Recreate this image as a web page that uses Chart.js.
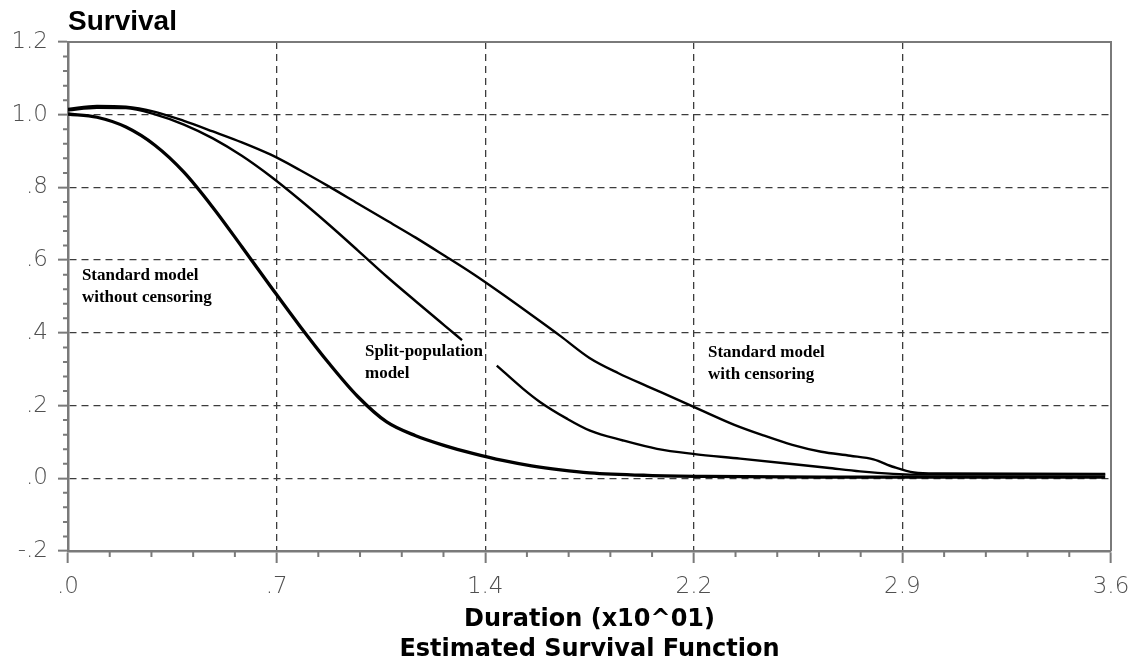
<!DOCTYPE html>
<html>
<head>
<meta charset="utf-8">
<script src="https://cdn.jsdelivr.net/npm/chart.js@4/dist/chart.umd.min.js"></script>
<style>
  html, body { margin: 0; padding: 0; background: #ffffff; }
  #wrap { width: 1146px; height: 670px; }
</style>
</head>
<body>
<div id="wrap"><canvas id="c" width="1146" height="670"></canvas></div>
<script>
// ---- Data ----
// Standard model without censoring
const xNoCens = [0, 0.1, 0.2, 0.3, 0.4, 0.5, 0.6, 0.7, 0.8, 0.9, 1.0, 1.1, 1.2, 1.3, 1.4, 1.5, 1.6, 1.7, 1.8, 2.0, 2.2, 2.6, 3.58];
const yNoCens = [1.002, 0.993, 0.966, 0.916, 0.842, 0.745, 0.637, 0.527, 0.419, 0.317, 0.225, 0.155, 0.117, 0.090, 0.068, 0.049, 0.034, 0.023, 0.015, 0.008, 0.005, 0.003, 0.003];
// Split-population model (line is broken where its label sits)
const xSplit = [0, 0.1, 0.2, 0.3, 0.4, 0.5, 0.6, 0.7, 0.8, 0.9, 1.0, 1.1, 1.2, 1.3, 1.36, 1.42, 1.48, 1.571, 1.629, 1.722, 1.802, 1.916, 2.033, 2.157, 2.32, 2.49, 2.62, 2.734, 2.848, 2.92, 3.2, 3.58];
const ySplit = [1.012, 1.019, 1.018, 1.001, 0.973, 0.935, 0.887, 0.830, 0.766, 0.698, 0.627, 0.555, 0.487, 0.420, 0.380, null, 0.310, 0.246, 0.21, 0.164, 0.131, 0.104, 0.081, 0.067, 0.054, 0.040, 0.029, 0.019, 0.012, 0.010, 0.010, 0.010];
// Standard model with censoring
const xCens = [0, 0.1, 0.2, 0.3, 0.4, 0.5, 0.6, 0.7, 0.8, 0.9, 1.0, 1.1, 1.2, 1.3, 1.4, 1.5, 1.6, 1.7, 1.8, 1.9, 2.0, 2.1, 2.2, 2.3, 2.4, 2.5, 2.6, 2.7, 2.78, 2.85, 2.92, 3.0, 3.58];
const yCens = [1.016, 1.024, 1.022, 1.008, 0.983, 0.954, 0.924, 0.890, 0.848, 0.803, 0.756, 0.709, 0.662, 0.612, 0.561, 0.506, 0.449, 0.391, 0.331, 0.289, 0.253, 0.218, 0.182, 0.147, 0.118, 0.092, 0.073, 0.062, 0.052, 0.031, 0.016, 0.013, 0.012];

// Tick values and labels
const xTickValues = [0, 0.72, 1.44, 2.16, 2.88, 3.6];
const xTickLabels = ['.0', '.7', '1.4', '2.2', '2.9', '3.6'];
const yTickValues = [-0.2, 0, 0.2, 0.4, 0.6, 0.8, 1.0, 1.2];
const yTickLabels = ['-.2', '.0', '.2', '.4', '.6', '.8', '1.0', '1.2'];

// Text labels placed in data units
const annotTexts = [['Standard model', 'without censoring'], ['Split-population', 'model'], ['Standard model', 'with censoring']];
const annotX = [0.048, 1.025, 2.209];
const annotY = [0.557, 0.348, 0.345];

const toPts = (xs, ys) => xs.map((x, i) => ({ x: x, y: ys[i] }));

const AXIS_GREY = '#7a7a7a';
const GRID = '#3c3c3c';
const LABEL_GREY = '#505050';

const framePlugin = {
  id: 'frame',
  beforeDatasetsDraw(chart) {
    const { ctx, chartArea: a, scales } = chart;
    ctx.save();
    ctx.strokeStyle = AXIS_GREY;
    ctx.lineWidth = 2;
    ctx.beginPath();
    ctx.moveTo(a.left, a.top);
    ctx.lineTo(a.right, a.top);
    ctx.lineTo(a.right, a.bottom);
    ctx.stroke();
    // minor ticks
    ctx.beginPath();
    for (let k = 0; k <= 25; k++) {
      if (k % 5 === 0) continue;
      const px = scales.x.getPixelForValue(k * 0.144);
      ctx.moveTo(px, a.bottom);
      ctx.lineTo(px, a.bottom + 6);
    }
    for (let k = 0; k <= 35; k++) {
      if (k % 5 === 0) continue;
      const py = scales.y.getPixelForValue(-0.2 + k * 0.04);
      ctx.moveTo(a.left - 5, py);
      ctx.lineTo(a.left, py);
    }
    ctx.stroke();
    ctx.restore();
  },
  afterDatasetsDraw(chart) {
    const { ctx, scales } = chart;
    ctx.save();
    ctx.fillStyle = '#000';
    ctx.font = 'bold 17px "Liberation Serif", "Times New Roman", serif';
    ctx.textBaseline = 'middle';
    ctx.textAlign = 'left';
    annotTexts.forEach((lines, i) => {
      const px = scales.x.getPixelForValue(annotX[i]);
      const py = scales.y.getPixelForValue(annotY[i]);
      lines.forEach((t, j) => ctx.fillText(t, px, py + j * 22));
    });
    ctx.restore();
  }
};

const lineDs = (label, pts, w) => ({
  label: label,
  data: pts,
  borderColor: '#000',
  borderWidth: w,
  pointRadius: 0,
  fill: false,
  spanGaps: false,
  cubicInterpolationMode: 'monotone'
});

new Chart(document.getElementById('c'), {
  type: 'line',
  data: {
    datasets: [
      lineDs('Standard model without censoring', toPts(xNoCens, yNoCens), 3.3),
      lineDs('Split-population model', toPts(xSplit, ySplit), 2.4),
      lineDs('Standard model with censoring', toPts(xCens, yCens), 2.4)
    ]
  },
  options: {
    responsive: false,
    animation: false,
    layout: { padding: { left: 0, right: 35, top: 0, bottom: 0 } },
    plugins: {
      legend: { display: false },
      tooltip: { enabled: false },
      title: {
        display: true,
        text: 'Survival',
        align: 'start',
        fullSize: false,
        color: '#000',
        font: { family: '"Liberation Sans", Arial, sans-serif', size: 28, weight: 'bold', lineHeight: 1.2 },
        padding: { top: 5.7, bottom: 2.7 }
      }
    },
    scales: {
      x: {
        type: 'linear',
        min: 0,
        max: 3.6,
        afterBuildTicks: (s) => { s.ticks = xTickValues.map(v => ({ value: v })); },
        afterFit: (s) => { s.height = 119; },
        ticks: {
          color: LABEL_GREY,
          padding: 10,
          maxRotation: 0,
          autoSkip: false,
          font: { family: '"DejaVu Sans", sans-serif', size: 23, weight: 200 },
          callback: (v) => { const i = xTickValues.indexOf(v); return i >= 0 ? xTickLabels[i] : ''; }
        },
        grid: {
          color: (c) => (c.tick && (c.tick.value === 0 || c.tick.value === 3.6)) ? 'rgba(0,0,0,0)' : GRID,
          lineWidth: 1.3,
          tickLength: 12,
          tickColor: AXIS_GREY,
          tickWidth: 2,
          tickBorderDash: []
        },
        border: { display: true, color: AXIS_GREY, width: 2.5, dash: [7, 5] },
        title: {
          display: true,
          text: ['Duration (x10^01)', 'Estimated Survival Function'],
          color: '#000',
          font: { family: '"DejaVu Sans", sans-serif', size: 24, weight: 'bold', lineHeight: 1.25 },
          padding: { top: 0, bottom: 5 }
        }
      },
      y: {
        type: 'linear',
        min: -0.2,
        max: 1.2,
        afterBuildTicks: (s) => { s.ticks = yTickValues.map(v => ({ value: v })); },
        afterFit: (s) => { s.width = 68; },
        ticks: {
          color: LABEL_GREY,
          padding: 10,
          autoSkip: false,
          font: { family: '"DejaVu Sans", sans-serif', size: 23, weight: 200 },
          callback: (v) => { const i = yTickValues.findIndex(t => Math.abs(t - v) < 1e-9); return i >= 0 ? yTickLabels[i] : ''; }
        },
        grid: {
          color: (c) => (c.tick && (Math.abs(c.tick.value - 1.2) < 1e-9 || Math.abs(c.tick.value + 0.2) < 1e-9)) ? 'rgba(0,0,0,0)' : GRID,
          lineWidth: 1.3,
          tickLength: 10,
          tickColor: AXIS_GREY,
          tickWidth: 2,
          tickBorderDash: []
        },
        border: { display: true, color: AXIS_GREY, width: 2.5, dash: [7, 5] }
      }
    }
  },
  plugins: [framePlugin]
});
</script>
</body>
</html>
